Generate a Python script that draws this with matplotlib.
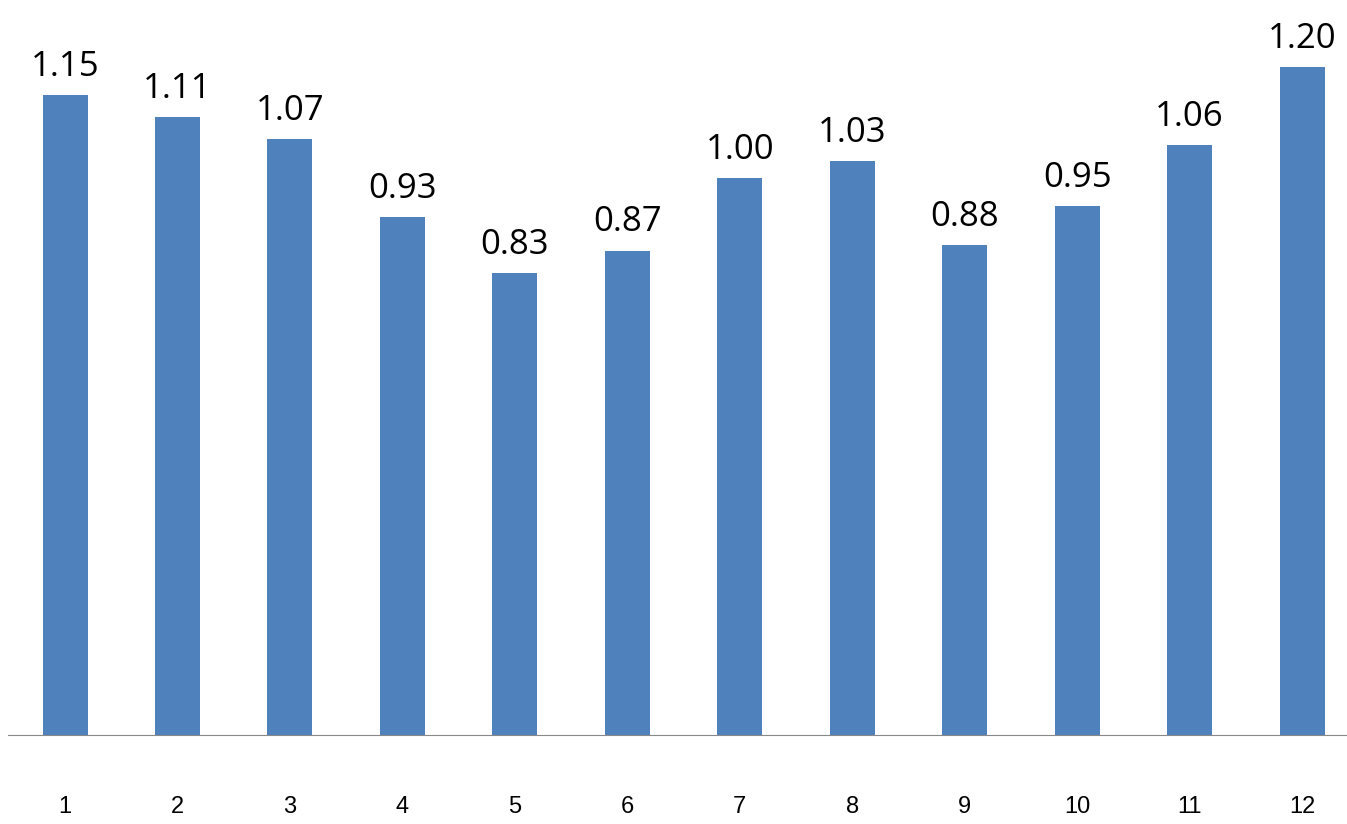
import matplotlib
matplotlib.use("Agg")
import matplotlib.pyplot as plt

categories = ["1","2","3","4","5","6","7","8","9","10","11","12"]
values = [1.15,1.11,1.07,0.93,0.83,0.87,1.00,1.03,0.88,0.95,1.06,1.20]

fig = plt.figure(figsize=(13.47,8.24), dpi=100)
ax = fig.add_axes([8/1347, 1-735/824, 1-8/1347, 735/824])
x = list(range(1, len(values)+1))
ax.bar(x, values, width=0.4, color="#4F81BD")
for xi, v in zip(x, values):
    ax.text(xi, v+0.02, f"{v:.2f}", ha="center", va="bottom", fontsize=25, family="Open Sans")
ax.set_xlim(0.493, 12.4)
ax.set_ylim(0, 1.32)
for s in ["top","right","left"]:
    ax.spines[s].set_visible(False)
ax.spines["bottom"].set_color("#888888")
ax.set_yticks([])
ax.set_xticks(x)
ax.set_xticklabels(categories, fontsize=17, family="Liberation Sans")
ax.tick_params(axis="x", length=0, pad=44)
fig.savefig("out.png", dpi=100)
